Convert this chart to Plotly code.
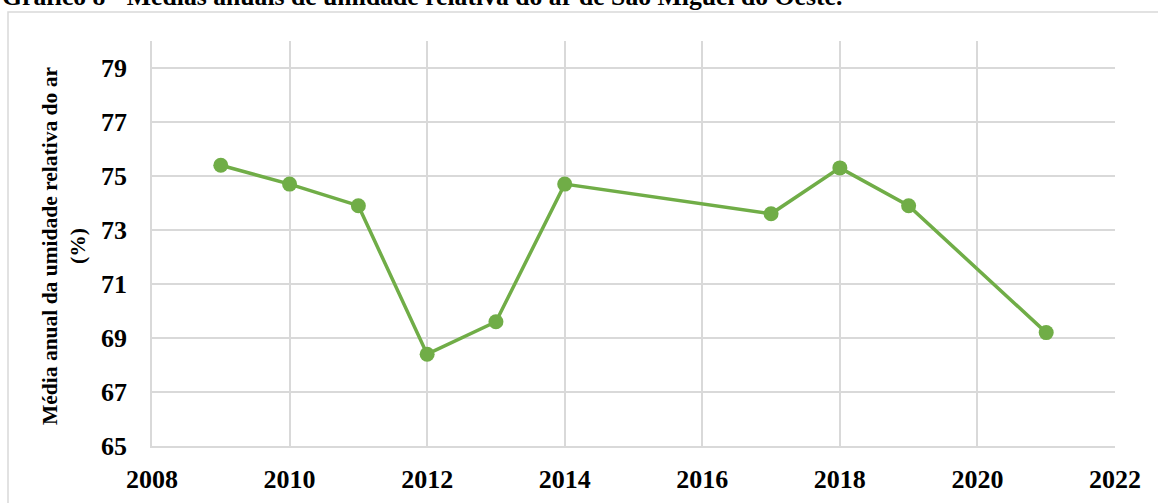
import plotly.graph_objects as go

years = [2009, 2010, 2011, 2012, 2013, 2014, 2017, 2018, 2019, 2021]
umidade = [75.4, 74.7, 73.9, 68.4, 69.6, 74.7, 73.6, 75.3, 73.9, 69.2]

titulo = "Gráfico 8 - Médias anuais de umidade relativa do ar de São Miguel do Oeste."
y_title = "Média anual da umidade relativa do ar<br>(%)"

W, H = 1158, 503
L, R, T, B = 152, 43, 41, 57
pw, ph = W - L - R, H - T - B


def px_x(p):
    return (p - L) / pw


def px_y(p):
    return (H - B - p) / ph


FONT = "Liberation Serif, Times New Roman, serif"
GREEN = "#70AD47"
GRID = "#D9D9D9"

fig = go.Figure()
fig.add_trace(go.Scatter(
    x=years, y=umidade,
    mode="lines+markers",
    line=dict(color=GREEN, width=3.5),
    marker=dict(color=GREEN, size=15),
    showlegend=False,
))

fig.update_layout(
    width=W, height=H,
    margin=dict(l=L, r=R, t=T, b=B, autoexpand=False),
    paper_bgcolor="white",
    plot_bgcolor="white",
    font=dict(family=FONT, color="black"),
)
fig.update_xaxes(
    range=[2008, 2022], tick0=2008, dtick=2,
    showgrid=True, gridcolor=GRID, gridwidth=1.5,
    showline=True, linecolor=GRID, linewidth=1.5,
    zeroline=False, ticks="",
    tickfont=dict(family=FONT, size=26, color="black", weight="bold"),
    ticklabelstandoff=9,
)
fig.update_yaxes(
    range=[65, 80], tickvals=[65, 67, 69, 71, 73, 75, 77, 79],
    showgrid=True, gridcolor=GRID, gridwidth=1.5,
    showline=True, linecolor=GRID, linewidth=1.5,
    zeroline=False, ticks="",
    tickfont=dict(family=FONT, size=26, color="black", weight="bold"),
    ticklabelstandoff=18,
)

# moldura do gráfico
fig.add_shape(
    type="rect", xref="paper", yref="paper",
    x0=px_x(8), x1=px_x(1170), y0=px_y(520), y1=px_y(12),
    line=dict(color=GRID, width=1.5), layer="below",
)

fig.add_annotation(
    text=titulo, xref="paper", yref="paper",
    x=px_x(0), y=px_y(-3), xanchor="left", yanchor="middle",
    showarrow=False,
    font=dict(family=FONT, size=25.7, color="black", weight="bold"),
)
fig.add_annotation(
    text=y_title, xref="paper", yref="paper",
    x=px_x(64), y=px_y(246), xanchor="center", yanchor="middle",
    textangle=-90, showarrow=False, align="center",
    font=dict(family=FONT, size=21.5, color="black", weight="bold"),
)

fig.write_html(
    "out.html",
    config={"displayModeBar": False},
    post_script="document.body.style.margin = '0';",
)
